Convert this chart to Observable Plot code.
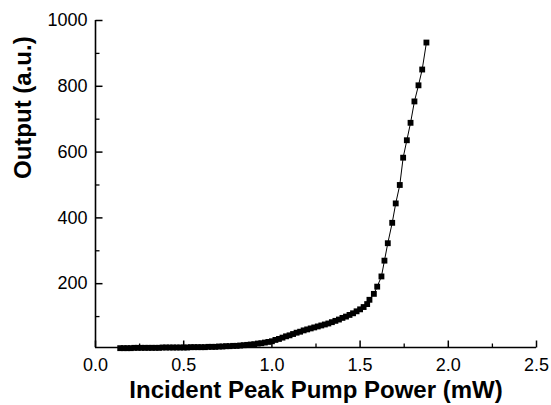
<!DOCTYPE html>
<html>
<head>
<meta charset="utf-8">
<script src="https://cdn.jsdelivr.net/npm/d3@7"></script>
<script src="https://cdn.jsdelivr.net/npm/@observablehq/plot@0.6"></script>
<style>
  html, body { margin: 0; padding: 0; background: #fff; }
  #chart svg { display: block; }
</style>
</head>
<body>
<div id="chart"></div>
<script>
// Incident peak pump power (mW)
const power = [
  0.14, 0.16, 0.18, 0.20, 0.22, 0.24, 0.26, 0.28, 0.30, 0.32,
  0.34, 0.36, 0.38, 0.40, 0.42, 0.44, 0.46, 0.48, 0.50, 0.52,
  0.54, 0.56, 0.58, 0.60, 0.62, 0.64, 0.66, 0.68, 0.70, 0.72,
  0.74, 0.76, 0.78, 0.80, 0.82, 0.84, 0.86, 0.88, 0.90, 0.92,
  0.94, 0.96, 0.98, 1.00, 1.02, 1.04, 1.06, 1.08, 1.10, 1.12,
  1.14, 1.16, 1.18, 1.20, 1.22, 1.24, 1.26, 1.28, 1.30, 1.32,
  1.34, 1.36, 1.38, 1.40, 1.42, 1.44, 1.46, 1.48, 1.50, 1.52,
  1.54, 1.553, 1.578, 1.597, 1.621, 1.638, 1.657, 1.682, 1.702, 1.725,
  1.744, 1.765, 1.786, 1.808, 1.831, 1.852, 1.876
];
// Output (a.u.)
const output = [
  4, 4, 4, 4, 5, 5, 5, 5, 5, 5,
  5, 5, 6, 6, 6, 6, 6, 6, 6, 6,
  7, 7, 7, 7, 7, 8, 8, 8, 9, 9,
  10, 10, 11, 11, 12, 13, 14, 15, 16, 18,
  19, 21, 23, 25, 29, 32, 36, 40, 43, 47,
  51, 54, 58, 61, 64, 67, 70, 73, 76, 79,
  83, 87, 91, 96, 100, 105, 110, 116, 122, 129,
  138, 151, 169, 191, 222, 270, 323, 385, 444, 500,
  583, 636, 689, 754, 803, 851, 933
];
const xMajor = [0, 0.5, 1.0, 1.5, 2.0, 2.5];
const xMinor = [0.25, 0.75, 1.25, 1.75, 2.25];
const yMajor = [200, 400, 600, 800, 1000];
const yMinor = [100, 300, 500, 700, 900];
const xTitle = "Incident Peak Pump Power (mW)";
const yTitle = "Output (a.u.)";

const data = power.map((p, i) => ({power: p, output: output[i]}));

const font = "'Liberation Sans', Arial, Helvetica, sans-serif";
const blank = () => "";

// inward tick glyphs (custom symbols) for the frame edges
const tickRight = (len) => ({draw(ctx) { ctx.moveTo(0, 0); ctx.lineTo(len, 0); }});
const tickUp = (len) => ({draw(ctx) { ctx.moveTo(0, 0); ctx.lineTo(0, -len); }});

const chart = Plot.plot({
  width: 551,
  height: 405,
  marginLeft: 95,
  marginRight: 15,
  marginTop: 20,
  marginBottom: 58,
  style: {fontFamily: font, fontSize: "18px", color: "#000", background: "#fff"},
  x: {domain: [0, 2.5]},
  y: {domain: [6, 1000]},
  marks: [
    Plot.ruleX([0], {stroke: "#000", strokeWidth: 1.6}),
    Plot.ruleY([6], {stroke: "#000", strokeWidth: 1.6}),
    // inward ticks
    Plot.dot(xMajor, {x: d => d, y: 6, symbol: tickUp(7), fill: "none", stroke: "#000", strokeWidth: 1.5}),
    Plot.dot(xMinor, {x: d => d, y: 6, symbol: tickUp(4), fill: "none", stroke: "#000", strokeWidth: 1.3}),
    Plot.dot(yMajor, {x: 0, y: d => d, symbol: tickRight(7), fill: "none", stroke: "#000", strokeWidth: 1.5}),
    Plot.dot(yMinor, {x: 0, y: d => d, symbol: tickRight(4), fill: "none", stroke: "#000", strokeWidth: 1.3}),
    // tick labels
    Plot.axisX(xMajor, {tickSize: 0, tickPadding: 11, tickFormat: d3.format(".1f"),
      fontSize: 18, label: null}),
    Plot.axisY(yMajor, {tickSize: 0, tickPadding: 8, tickFormat: d3.format("d"),
      fontSize: 18, label: null}),
    Plot.text([xTitle], {frameAnchor: "bottom", dy: 43, lineAnchor: "middle",
      fontSize: 24, fontWeight: "bold", fill: "#000"}),
    Plot.text([yTitle], {frameAnchor: "left", dx: -72, dy: -5, rotate: -90, lineAnchor: "middle",
      fontSize: 24, fontWeight: "bold", fill: "#000"}),
    Plot.line(data, {x: "power", y: "output", stroke: "#000", strokeWidth: 1}),
    Plot.dot(data, {x: "power", y: "output", symbol: "square", r: 3.3, fill: "#000", stroke: "none"})
  ]
});

document.getElementById("chart").appendChild(chart);
</script>
</body>
</html>
